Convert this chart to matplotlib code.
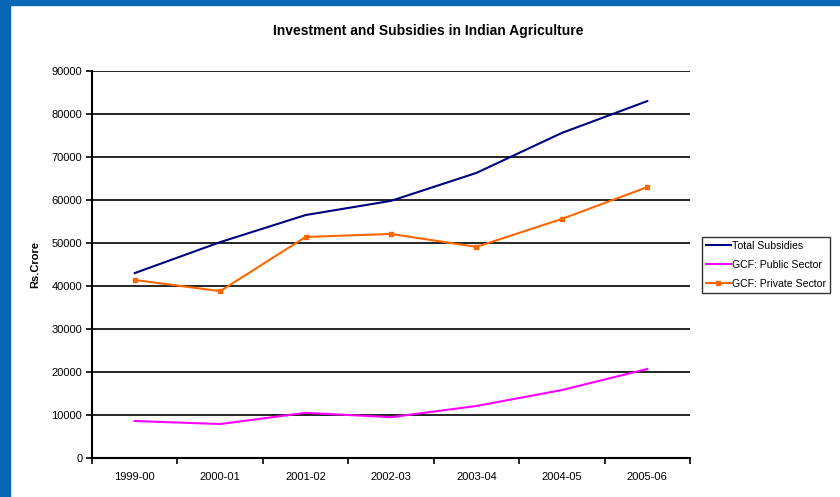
import matplotlib.pyplot as plt
import matplotlib.patches as mpatches
import numpy as np

# data (Rs. Crore)
years = ['1999-00', '2000-01', '2001-02', '2002-03', '2003-04', '2004-05', '2005-06']
total_subsidies = [43000, 50200, 56500, 59800, 66300, 75600, 83000]
gcf_public = [8600, 7900, 10500, 9500, 12100, 15800, 20700]
gcf_private = [41400, 38800, 51400, 52100, 49100, 55600, 63000]

plt.rcParams['font.family'] = ['Liberation Sans', 'DejaVu Sans']

fig = plt.figure(figsize=(8.4, 4.97), dpi=100)
fig.patch.set_facecolor('white')

# blue slide border on left and top
fig.patches.append(mpatches.Rectangle((0, 0), 10/840, 1, transform=fig.transFigure,
                                      color='#0767B4', zorder=0))
fig.patches.append(mpatches.Rectangle((0, 1 - 5/497), 1, 5/497, transform=fig.transFigure,
                                      color='#0767B4', zorder=0))

ax = fig.add_axes([92/840, 1 - 458/497, (690-92)/840, (458-71)/497])
x = np.arange(len(years))

ax.plot(x, total_subsidies, color='#000080', lw=1.5, label='Total Subsidies')
ax.plot(x, gcf_public, color='#FF00FF', lw=1.5, label='GCF: Public Sector')
ax.plot(x, gcf_private, color='#FF6600', lw=1.5, marker='s', ms=3.5, label='GCF: Private Sector')

ax.set_xlim(-0.5, len(years) - 0.5)
ax.set_ylim(0, 90000)
ax.set_yticks(np.arange(0, 90001, 10000))
ax.set_yticklabels([str(v) for v in range(0, 90001, 10000)], fontsize=8)
ax.set_xticks(np.arange(-0.5, len(years), 1))
ax.set_xticklabels([])
ax.set_xticks(x, minor=True)
ax.set_xticklabels(years, minor=True, fontsize=8)
ax.tick_params(axis='x', which='minor', length=0, pad=10)
ax.tick_params(axis='x', which='major', length=4, width=1.2, direction='out')
ax.tick_params(axis='y', length=4, width=1.2, direction='out', pad=3)

ax.grid(axis='y', color='black', lw=1.2)
ax.set_axisbelow(True)
for s in ['top', 'right']:
    ax.spines[s].set_visible(False)
for s in ['left', 'bottom']:
    ax.spines[s].set_linewidth(1.5)

fig.text(35/840, 1 - 265/497, 'Rs.Crore', rotation=90, ha='center', va='center',
         fontsize=8, fontweight='bold')

fig.text(428/840, 1 - 31/497, 'Investment and Subsidies in Indian Agriculture',
         ha='center', va='center', fontsize=10, fontweight='bold')

leg = fig.legend(*ax.get_legend_handles_labels(), loc='center left',
                 bbox_to_anchor=(702/840, 1 - 265/497), fontsize=7.6,
                 frameon=True, fancybox=False, edgecolor='black', handlelength=2.3,
                 handletextpad=0.15, borderpad=0.4, labelspacing=0.85, borderaxespad=0)
leg.get_frame().set_linewidth(1.0)

plt.savefig('out.png', dpi=100)
